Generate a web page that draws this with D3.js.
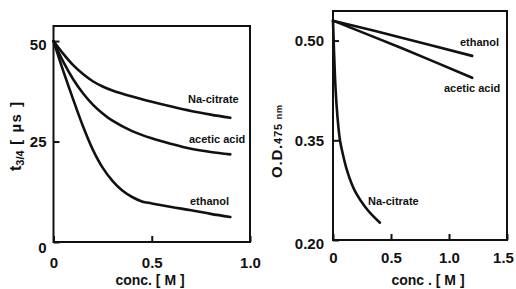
<!DOCTYPE html>
<html>
<head>
<meta charset="utf-8">
<script src="https://cdn.jsdelivr.net/npm/d3@7"></script>
<style>
    body { margin: 0; background: #fff; }
    svg text { font-family: "Liberation Sans", Arial, sans-serif; font-weight: bold; fill: #111; }
</style>
</head>
<body>
<svg id="chart" width="516" height="289"></svg>
<script>
// left panel: t3/4 [us] vs concentration
const concL = [0, 0.05, 0.1, 0.15, 0.2, 0.25, 0.3, 0.4, 0.5, 0.6, 0.7, 0.8, 0.9];
const naCitrateT = [50, 46.8, 44, 41.8, 40, 38.7, 37.7, 36.2, 34.9, 33.7, 32.6, 31.7, 30.9];
const aceticT = [50, 44.8, 40.5, 37, 34.2, 32, 30.2, 27.6, 25.8, 24.4, 23.2, 22.4, 21.8];
const ethanolConcL = [0, 0.05, 0.1, 0.15, 0.2, 0.25, 0.3, 0.35, 0.4, 0.45, 0.5, 0.6, 0.7, 0.8, 0.9];
const ethanolT = [50, 42.5, 35.5, 28.8, 23, 18.5, 15.2, 12.8, 11.2, 10.1, 9.6, 8.7, 7.9, 7, 6.2];

// right panel: O.D. at 475 nm vs concentration
const ethanolConcR = [0, 0.6, 1.2];
const ethanolOD = [0.53, 0.504, 0.477];
const aceticConcR = [0, 0.6, 1.2];
const aceticOD = [0.53, 0.488, 0.444];
const naCitrateConcR = [0, 0.017, 0.03, 0.046, 0.06, 0.089, 0.12, 0.16, 0.2, 0.276, 0.34, 0.405];
const naCitrateOD = [0.53, 0.446, 0.405, 0.371, 0.35, 0.326, 0.305, 0.285, 0.27, 0.25, 0.237, 0.226];

const leftXTicks = [0, 0.5, 1.0];
const leftYTicks = [0, 25, 50];
const rightXTicks = [0, 0.5, 1.0, 1.5];
const rightYTicks = [0.20, 0.35, 0.50];

const svg = d3.select("#chart");
const ink = "#111";

function panel(opt) {
    const x = d3.scaleLinear().domain(opt.xDomain).range(opt.xRange);
    const y = d3.scaleLinear().domain(opt.yDomain).range(opt.yRange);
    const g = svg.append("g");

    const xAxis = g.append("g")
        .attr("transform", `translate(0,${opt.yRange[0]})`)
        .call(d3.axisBottom(x).tickValues(opt.xTicks).tickSizeInner(-6).tickSizeOuter(0)
            .tickPadding(opt.xPad).tickFormat(opt.xFormat));
    const yAxis = g.append("g")
        .attr("transform", `translate(${opt.xRange[0]},0)`)
        .call(d3.axisLeft(y).tickValues(opt.yTicks).tickSizeInner(-6).tickSizeOuter(0)
            .tickPadding(opt.yPad).tickFormat(opt.yFormat));

    [xAxis, yAxis].forEach(a => {
        a.select(".domain").remove();
        a.selectAll("line").attr("stroke", ink).attr("stroke-width", 2);
        a.selectAll("text").attr("font-size", 15).attr("fill", ink);
    });
    yAxis.selectAll("text").attr("dy", d => (opt.yShift[d] || 0) + 5);
    xAxis.selectAll("text").attr("dx", d => opt.xShift[d] || 0);

    g.append("rect")
        .attr("x", opt.xRange[0]).attr("y", opt.yRange[1])
        .attr("width", opt.xRange[1] - opt.xRange[0])
        .attr("height", opt.yRange[0] - opt.yRange[1])
        .attr("fill", "none").attr("stroke", ink).attr("stroke-width", 2);

    const line = d3.line().x(d => x(d[0])).y(d => y(d[1])).curve(d3.curveCatmullRom.alpha(0.5));
    opt.series.forEach(s => {
        g.append("path")
            .datum(d3.zip(s.xs, s.ys))
            .attr("d", line)
            .attr("fill", "none")
            .attr("stroke", ink)
            .attr("stroke-width", 2.6)
            .attr("stroke-linecap", "round");
        g.append("text")
            .attr("x", s.lx).attr("y", s.ly)
            .attr("font-size", 11)
            .attr("dominant-baseline", "middle")
            .text(s.name);
    });

    g.append("text")
        .attr("x", opt.titleX).attr("y", 285)
        .attr("text-anchor", "middle")
        .attr("font-size", 14)
        .text(opt.xTitle);
    return g;
}

panel({
    xDomain: [0, 1], xRange: [53.5, 250],
    yDomain: [0, 53.75], yRange: [242, 26],
    xTicks: leftXTicks, yTicks: leftYTicks,
    xFormat: d => d === 0 ? "0" : d3.format(".1f")(d),
    yFormat: d3.format("d"),
    xPad: 15, yPad: 7, yShift: {0: 5, 50: 3}, xShift: {},
    xTitle: "conc. [ M ]", titleX: 150,
    series: [
        {name: "Na-citrate", xs: concL, ys: naCitrateT, lx: 188, ly: 100},
        {name: "acetic acid", xs: concL, ys: aceticT, lx: 189, ly: 140},
        {name: "ethanol", xs: ethanolConcL, ys: ethanolT, lx: 190, ly: 202}
    ]
});

panel({
    xDomain: [0, 1.5], xRange: [333, 507],
    yDomain: [0.2, 0.5445], yRange: [240, 11],
    xTicks: rightXTicks, yTicks: rightYTicks,
    xFormat: d => d === 0 ? "0" : d3.format(".1f")(d),
    yFormat: d3.format(".2f"),
    xPad: 12, yPad: 9, yShift: {0.2: 3}, xShift: {1.5: -4},
    xTitle: "conc .  [ M ]", titleX: 428,
    series: [
        {name: "ethanol", xs: ethanolConcR, ys: ethanolOD, lx: 460, ly: 43},
        {name: "acetic acid", xs: aceticConcR, ys: aceticOD, lx: 444, ly: 89},
        {name: "Na-citrate", xs: naCitrateConcR, ys: naCitrateOD, lx: 368, ly: 202}
    ]
});

// y titles, rotated
const tTitle = svg.append("text")
    .attr("transform", "translate(21,171) rotate(-90)")
    .attr("font-size", 16);
tTitle.append("tspan").text("t");
tTitle.append("tspan").attr("font-size", 11).attr("dy", 3).text("3/4");
tTitle.append("tspan").attr("font-size", 15).attr("dy", -3)
    .attr("letter-spacing", 1.5).text(" [ µs ]");

const odTitle = svg.append("text")
    .attr("transform", "translate(282,178) rotate(-90)")
    .attr("font-size", 15)
    .attr("letter-spacing", 0.8);
odTitle.append("tspan").text("O.D.");
odTitle.append("tspan").attr("font-size", 11).text("475 ");
odTitle.append("tspan").attr("font-size", 9).text("nm");
</script>
</body>
</html>
